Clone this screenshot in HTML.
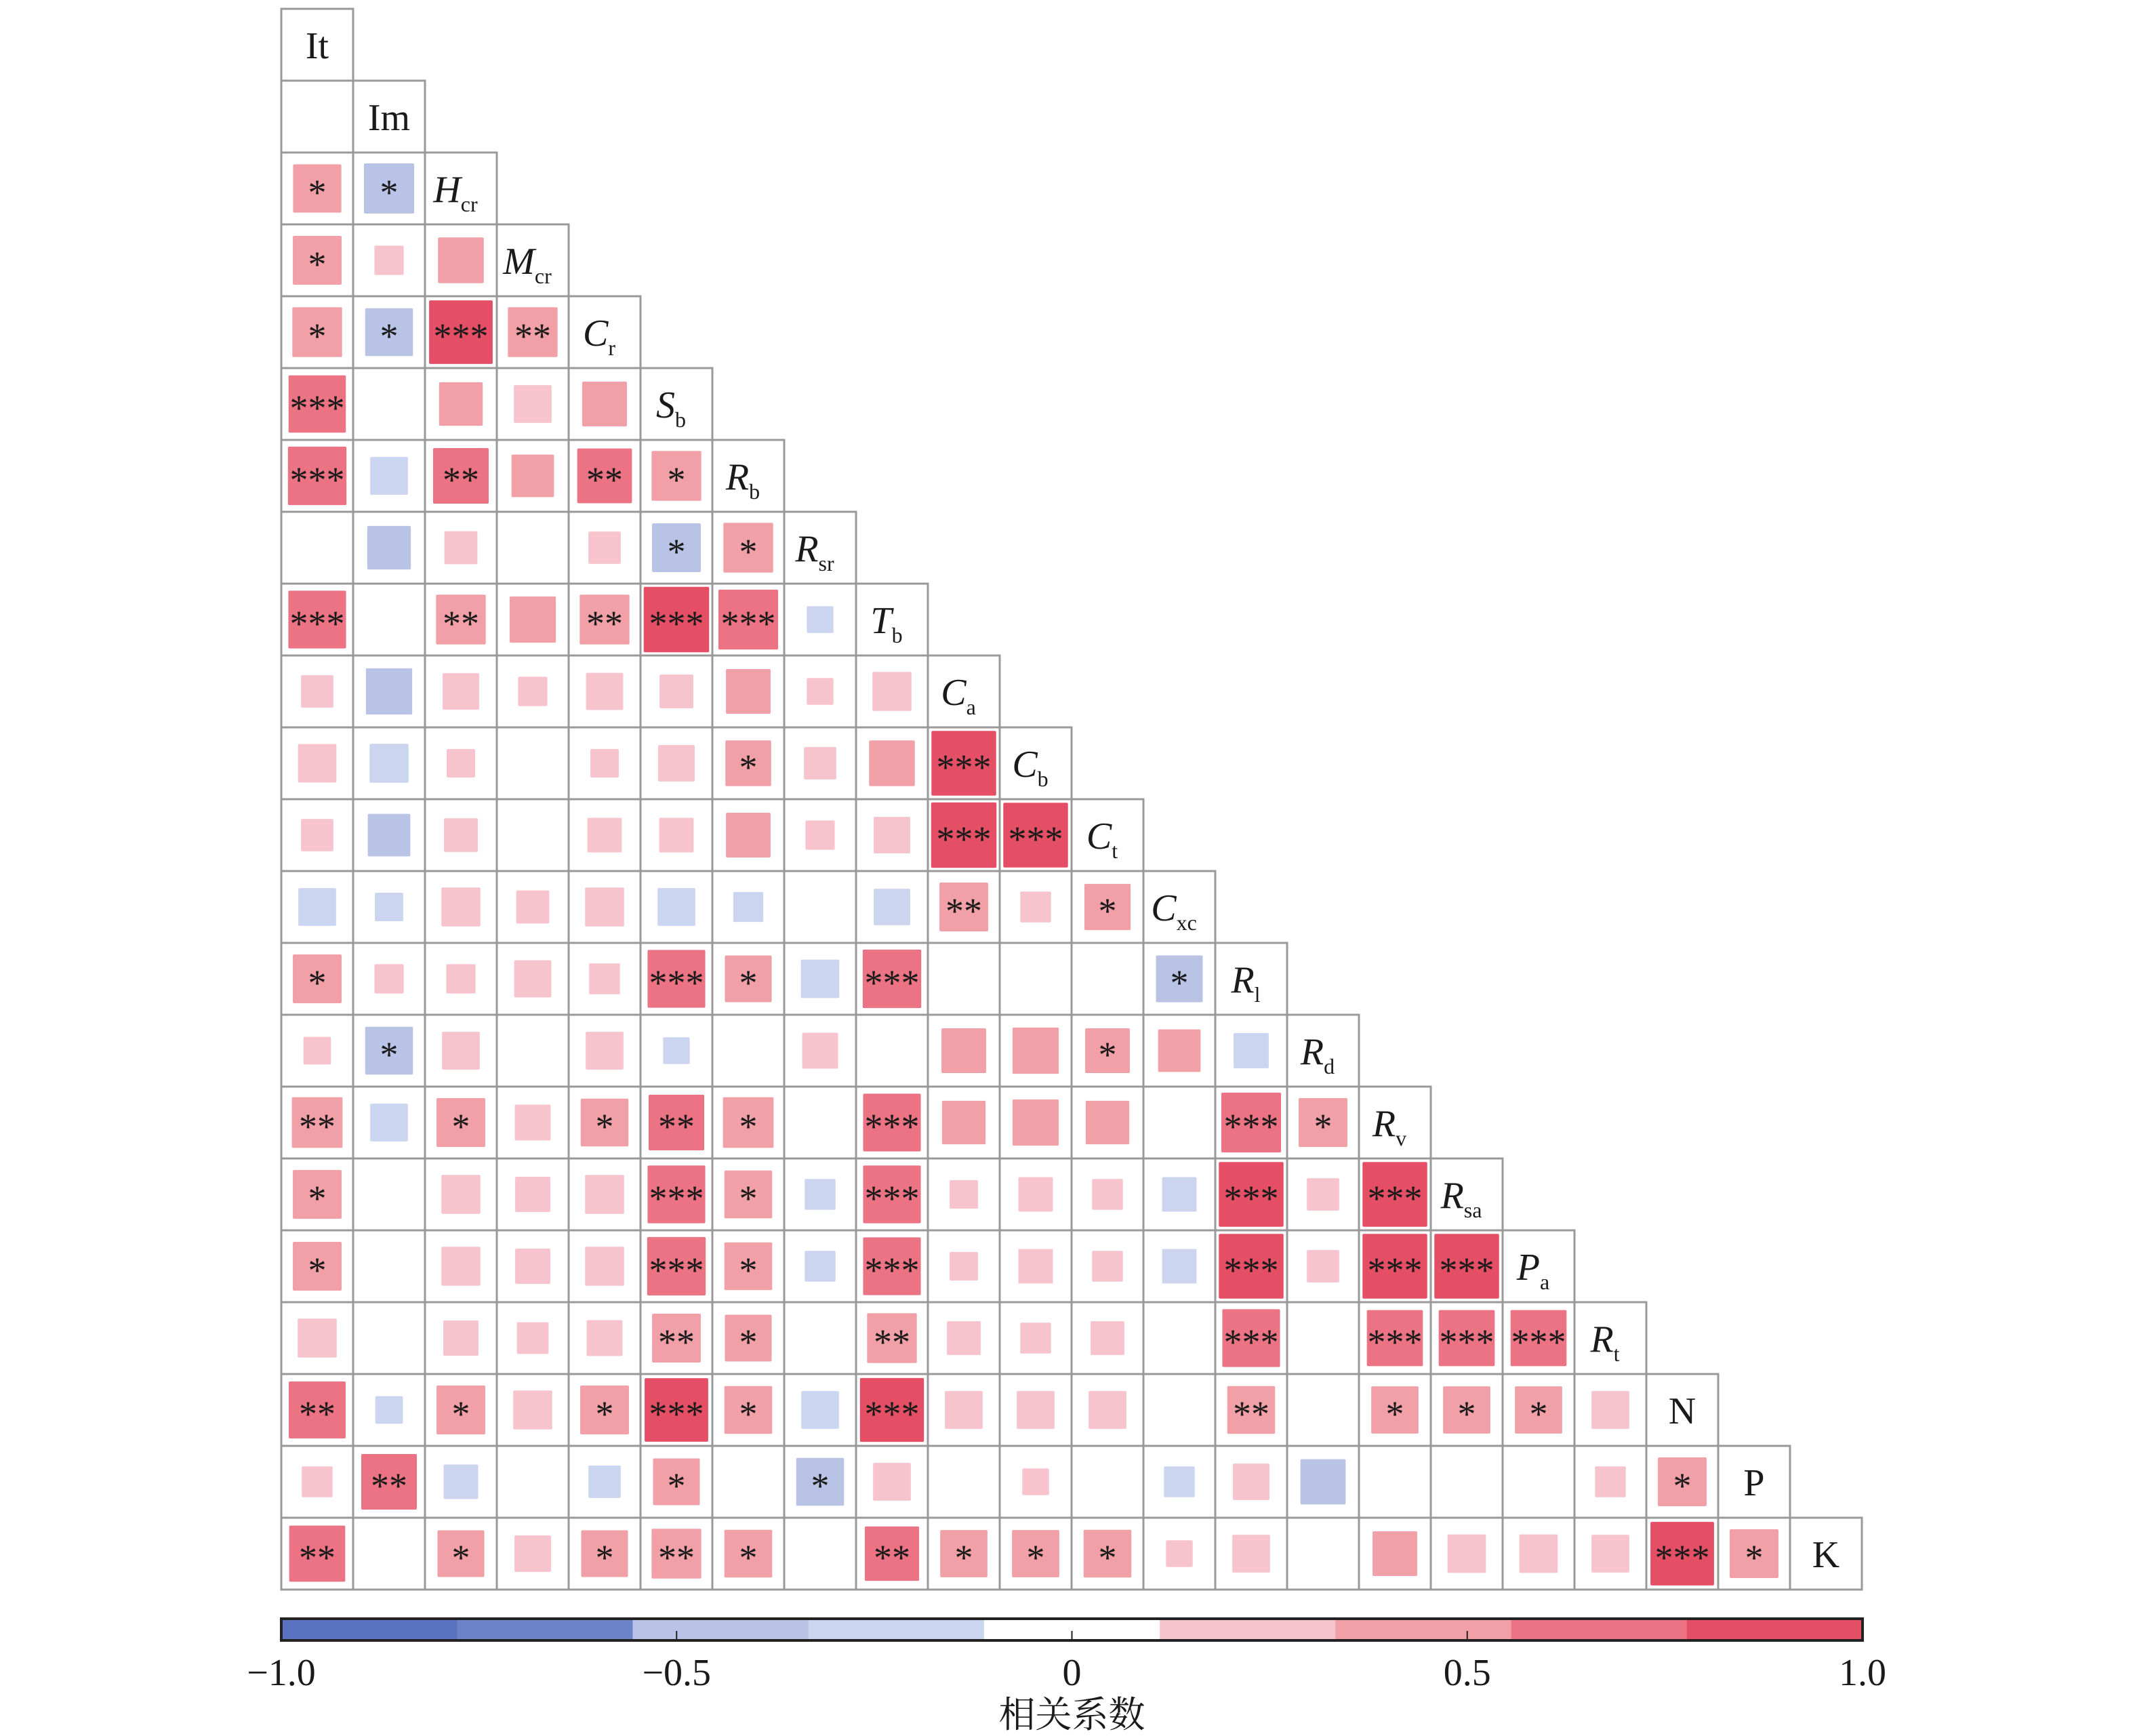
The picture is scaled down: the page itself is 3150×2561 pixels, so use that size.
<!DOCTYPE html>
<html><head><meta charset="utf-8">
<style>
html,body{margin:0;padding:0;background:#fff;}
svg{display:block;}
text{font-family:"Liberation Serif","Noto Serif CJK SC",serif;fill:#1a1a1a;}
</style></head>
<body>
<svg id="chart" width="3150" height="2561" viewBox="0 0 3150 2561" xmlns="http://www.w3.org/2000/svg">
<g id="cells"></g>
<g id="cbar"></g>
</svg>
<script>
const labels = [["It",""],["Im",""],["H","cr"],["M","cr"],["C","r"],["S","b"],["R","b"],["R","sr"],["T","b"],["C","a"],["C","b"],["C","t"],["C","xc"],["R","l"],["R","d"],["R","v"],["R","sa"],["P","a"],["R","t"],["N",""],["P",""],["K",""]];
const italic = [false,false,true,true,true,true,true,true,true,true,true,true,true,true,true,true,true,true,true,false,false,false];
const corr = [
 [],
 [0.02],
 [0.49,-0.53],
 [0.50,0.18,0.44],
 [0.52,-0.48,0.85,0.52],
 [0.69,0.02,0.40,0.30,0.42],
 [0.72,-0.30,0.65,0.38,0.63,0.52],
 [0.03,-0.40,0.23,0.02,0.22,-0.50,0.52],
 [0.70,0.02,0.52,0.45,0.52,0.90,0.75,-0.15],
 [0.22,-0.45,0.28,0.18,0.29,0.24,0.42,0.15,0.32],
 [0.31,-0.32,0.17,0.02,0.17,0.28,0.44,0.22,0.44,0.88],
 [0.22,-0.38,0.24,0.02,0.25,0.25,0.42,0.18,0.28,0.90,0.88],
 [-0.30,-0.17,0.32,0.23,0.32,-0.30,-0.19,0.02,-0.28,0.50,0.20,0.45],
 [0.50,0.18,0.18,0.29,0.20,0.70,0.46,-0.31,0.72,0.02,0.02,0.03,-0.46],
 [0.16,-0.48,0.30,0.02,0.30,-0.15,0.03,0.27,0.02,0.42,0.45,0.42,0.38,-0.26],
 [0.54,-0.30,0.50,0.27,0.48,0.65,0.54,0.02,0.70,0.40,0.45,0.40,0.02,0.75,0.50],
 [0.50,0.02,0.32,0.26,0.32,0.70,0.48,-0.20,0.70,0.17,0.25,0.20,-0.25,0.88,0.22,0.88],
 [0.50,0.02,0.32,0.26,0.32,0.72,0.48,-0.20,0.70,0.17,0.25,0.20,-0.25,0.88,0.22,0.88,0.88],
 [0.32,0.02,0.26,0.21,0.27,0.50,0.46,0.02,0.52,0.24,0.20,0.24,0.02,0.70,0.02,0.66,0.66,0.66],
 [0.68,-0.16,0.50,0.32,0.50,0.85,0.48,-0.30,0.86,0.30,0.30,0.30,0.02,0.48,0.02,0.47,0.47,0.47,0.30],
 [0.20,0.65,-0.25,0.02,-0.22,0.46,0.02,-0.48,0.30,0.02,0.15,0.02,-0.20,0.28,-0.43,0.02,0.02,0.02,0.20,0.50],
 [0.66,0.02,0.46,0.28,0.46,0.52,0.48,0.02,0.62,0.47,0.47,0.48,0.15,0.30,0.02,0.42,0.31,0.31,0.30,0.85,0.50]
];
const stars = [
 [],
 [""],
 ["*","*"],
 ["*","",""],
 ["*","*","***","**"],
 ["***","","","",""],
 ["***","","**","","**","*"],
 ["","","","","","*","*"],
 ["***","","**","","**","***","***",""],
 ["","","","","","","","",""],
 ["","","","","","","*","","","***"],
 ["","","","","","","","","","***","***"],
 ["","","","","","","","","","**","","*"],
 ["*","","","","","***","*","","***","","","","*"],
 ["","*","","","","","","","","","","*","",""],
 ["**","","*","","*","**","*","","***","","","","","***","*"],
 ["*","","","","","***","*","","***","","","","","***","","***"],
 ["*","","","","","***","*","","***","","","","","***","","***","***"],
 ["","","","","","**","*","","**","","","","","***","","***","***","***"],
 ["**","","*","","*","***","*","","***","","","","","**","","*","*","*",""],
 ["","**","","","","*","","*","","","","","","","","","","","","*"],
 ["**","","*","","*","**","*","","**","*","*","*","","","","","","","","***","*"]
];
const cbTicks = [-1,-0.5,0,0.5,1];
const cbTickLabels = ["\u22121.0","\u22120.5","0","0.5","1.0"];
const binColors = ["#5b72c0","#6e82c9","#b9c3e6","#ccd5ef","#ffffff","#f7c4cd","#f1a0a8","#ec7383","#e54f65"];

const NS="http://www.w3.org/2000/svg";
const X0=415, Y0=13, CELL=106, N=labels.length;
const CBX0=415, CBX1=2748, CBY0=2388, CBY1=2420;
function colorOf(r){let k=Math.floor((r+1)/(2/9));if(k<0)k=0;if(k>8)k=8;return binColors[k];}
function cbX(v){return CBX0+(v+1)/2*(CBX1-CBX0);}
function mk(tag,attrs,parent){const e=document.createElementNS(NS,tag);for(const k in attrs)e.setAttribute(k,attrs[k]);parent.appendChild(e);return e;}
const gc=document.getElementById('cells');
for(let i=0;i<N;i++){
  for(let j=0;j<i;j++){
    const x=X0+j*CELL,y=Y0+i*CELL;
    const r=corr[i][j];
    const s=CELL*Math.sqrt(Math.abs(r))*0.96;
    const sq=mk('rect',{x:x+(CELL-s)/2,y:y+(CELL-s)/2,width:s,height:s,rx:2,fill:colorOf(r)},gc);
    
    
    const st=stars[i][j];
    if(st){
      const t=mk('text',{x:x+CELL/2,y:y+CELL/2+24,'text-anchor':'middle','font-size':54},gc);
      t.textContent=st;
      
      
    }
  }
}
for(let i=0;i<N;i++){
  for(let j=0;j<=i;j++){
    const x=X0+j*CELL,y=Y0+i*CELL;
    const b=mk('rect',{x:x,y:y,width:CELL,height:CELL,fill:'none',stroke:'#999',"stroke-width":3},gc);
    
    
  }
  const L=labels[i];
  const t=mk('text',{x:X0+i*CELL+CELL/2-(L[1]?8:0),y:Y0+i*CELL+CELL/2+20,'text-anchor':'middle','font-size':56},gc);
  
  
  const m=document.createElementNS(NS,'tspan');
  if(italic[i])m.setAttribute('font-style','italic');
  m.textContent=L[0];t.appendChild(m);
  if(L[1]){const sb=document.createElementNS(NS,'tspan');sb.setAttribute('font-size',32);sb.setAttribute('dy',14);sb.textContent=L[1];t.appendChild(sb);}
}
const gb=document.getElementById('cbar');
for(let k=0;k<9;k++){
  const a=-1+k*2/9,b=a+2/9;
  const r=mk('rect',{x:cbX(a),y:CBY0,width:cbX(b)-cbX(a)+0.5,height:CBY1-CBY0,fill:binColors[k]},gb);
  
  
}
const fr=mk('rect',{x:CBX0,y:CBY0,width:CBX1-CBX0,height:CBY1-CBY0,fill:'none',stroke:'#222','stroke-width':4},gb);


cbTicks.forEach((v,k)=>{
  const tk=mk('line',{x1:cbX(v),x2:cbX(v),y1:CBY1,y2:CBY1-14,stroke:'#222','stroke-width':2},gb);
  
  
  const t=mk('text',{x:cbX(v),y:2486,'text-anchor':'middle','font-size':56},gb);
  t.textContent=cbTickLabels[k];
  
  
});
const ttl=mk('text',{x:cbX(0),y:2548,'text-anchor':'middle','font-size':54},gb);
ttl.textContent='相关系数';


</script>
</body></html>
